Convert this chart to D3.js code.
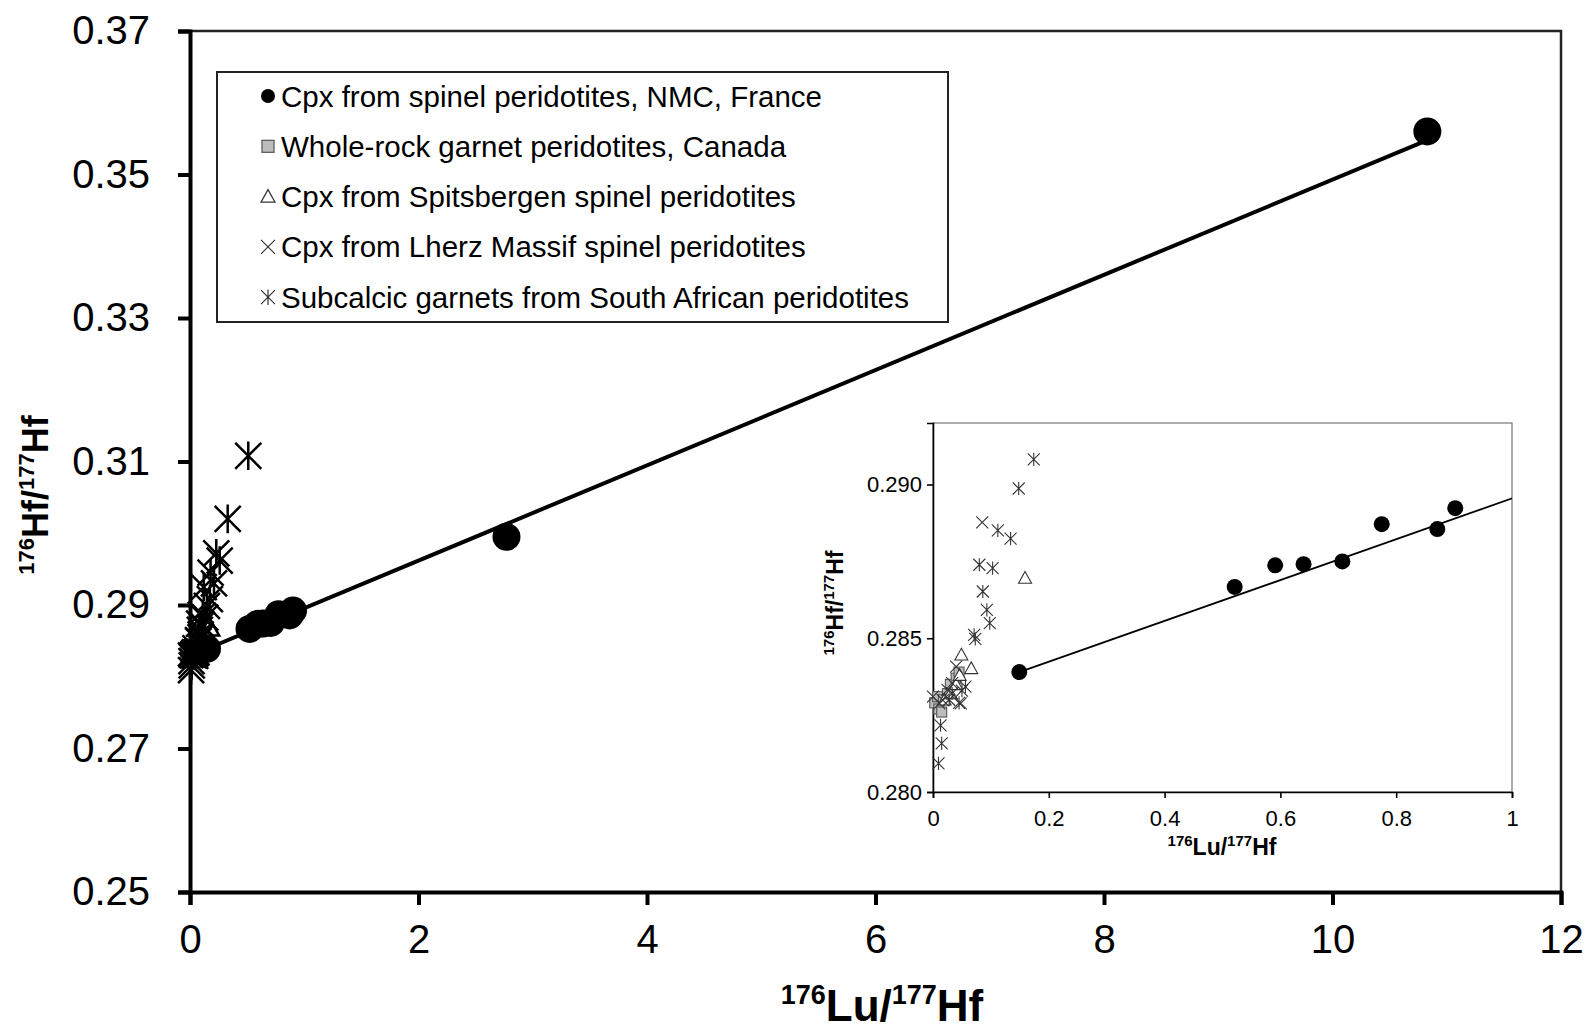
<!DOCTYPE html>
<html>
<head>
<meta charset="utf-8">
<script src="https://cdn.jsdelivr.net/npm/d3@7"></script>
<style>
  body { margin: 0; background: #fff; }
  svg { display: block; font-family: "Liberation Sans", Arial, sans-serif; }
</style>
</head>
<body>
<svg id="chart" width="1589" height="1028"></svg>
<script>
// --- data ---
var nmcLu = [0.149, 0.521, 0.591, 0.640, 0.707, 0.775, 0.871, 0.902, 2.77, 10.83];
var nmcHf = [0.28390, 0.28667, 0.28737, 0.28741, 0.28750, 0.28871, 0.28855, 0.28923, 0.2995, 0.3560];

var canadaLu = [0.003, 0.008, 0.010, 0.015, 0.018, 0.025, 0.030, 0.040, 0.045];
var canadaHf = [0.28290, 0.28310, 0.28270, 0.28260, 0.28300, 0.28320, 0.28350, 0.28370, 0.28390];

var spitsLu = [0.020, 0.030, 0.040, 0.046, 0.049, 0.066, 0.159];
var spitsHf = [0.28300, 0.28320, 0.28350, 0.28380, 0.28446, 0.28402, 0.28696];

var lherzLu = [0.000, 0.011, 0.017, 0.025, 0.033, 0.040, 0.048, 0.085];
var lherzHf = [0.28310, 0.28288, 0.28299, 0.28332, 0.28354, 0.28408, 0.28288, 0.28877];

var garnetLu = [0.0095, 0.015, 0.013, 0.028, 0.033, 0.045, 0.050, 0.056, 0.071, 0.073, 0.098, 0.093,
                0.086, 0.103, 0.080, 0.134, 0.112, 0.148, 0.174, 0.12, 0.21, 0.18, 0.26, 0.23, 0.33, 0.51];
var garnetHf = [0.28093, 0.28158, 0.28217, 0.28300, 0.28321, 0.28290, 0.28330, 0.28343, 0.28511, 0.28498, 0.28549, 0.28592,
                0.28652, 0.28728, 0.28739, 0.28824, 0.28851, 0.28987, 0.29082, 0.2925, 0.2930, 0.2945, 0.2962, 0.2972, 0.3020, 0.3108];

var lineLu = [0.149, 10.83];
var lineHf = [0.2839, 0.3548];

var mainXTicks = [0, 2, 4, 6, 8, 10, 12];
var mainYTicks = [0.25, 0.27, 0.29, 0.31, 0.33, 0.35, 0.37];
var insetXTicks = [0, 0.2, 0.4, 0.6, 0.8, 1];
var insetYTicks = [0.280, 0.285, 0.290];

var legendLabels = [
  "Cpx from spinel peridotites, NMC, France",
  "Whole-rock garnet peridotites, Canada",
  "Cpx from Spitsbergen spinel peridotites",
  "Cpx from Lherz Massif spinel peridotites",
  "Subcalcic garnets from South African peridotites"
];
var legendKinds = ["circle", "square", "triangle", "x", "star"];

function zip(a, b) { return a.map(function(v, i) { return [v, b[i]]; }); }

// drawing order: light symbols first, black ones on top
var series = [
  {kind: "square", pts: zip(canadaLu, canadaHf)},
  {kind: "triangle", pts: zip(spitsLu, spitsHf)},
  {kind: "x", pts: zip(lherzLu, lherzHf)},
  {kind: "star", pts: zip(garnetLu, garnetHf)},
  {kind: "circle", pts: zip(nmcLu, nmcHf)}
];

var svg = d3.select("#chart");

// marker drawing helper
function marker(g, kind, x, y, s, sw, col) {
  if (kind === "circle") {
    g.append("circle").attr("cx", x).attr("cy", y).attr("r", s).attr("fill", "#000");
  } else if (kind === "square") {
    g.append("rect").attr("x", x - s).attr("y", y - s).attr("width", 2 * s).attr("height", 2 * s)
      .attr("fill", "#bdbdbd").attr("stroke", "#555").attr("stroke-width", sw);
  } else if (kind === "triangle") {
    g.append("path").attr("d", "M" + x + "," + (y - s) + "L" + (x + s) + "," + (y + s * 0.8) + "L" + (x - s) + "," + (y + s * 0.8) + "Z")
      .attr("fill", "#fff").attr("stroke", col).attr("stroke-width", sw);
  } else if (kind === "x") {
    g.append("path").attr("d", "M" + (x - s) + "," + (y - s) + "L" + (x + s) + "," + (y + s) + "M" + (x + s) + "," + (y - s) + "L" + (x - s) + "," + (y + s))
      .attr("fill", "none").attr("stroke", col).attr("stroke-width", sw);
  } else {
    g.append("path").attr("d", "M" + (x - s) + "," + (y - s) + "L" + (x + s) + "," + (y + s) + "M" + (x + s) + "," + (y - s) + "L" + (x - s) + "," + (y + s) +
        "M" + x + "," + (y - s * 1.1) + "L" + x + "," + (y + s * 1.1))
      .attr("fill", "none").attr("stroke", col).attr("stroke-width", sw);
  }
}

function supLabel(sel, parts, big, small) {
  parts.forEach(function(p) {
    sel.append("tspan").attr("font-size", p[1] ? small : big)
      .attr("dy", p[1] ? -big * 0.38 : (p[2] ? big * 0.38 : 0)).text(p[0]);
  });
}

// ---------- main chart ----------
var M = {left: 190, right: 1561, top: 31, bottom: 892};
var x = d3.scaleLinear().domain([0, 12]).range([M.left, M.right]);
var y = d3.scaleLinear().domain([0.25, 0.37]).range([M.bottom, M.top]);

// top/right frame
svg.append("path").attr("d", "M" + M.left + "," + M.top + "H" + M.right + "V" + M.bottom)
  .attr("fill", "none").attr("stroke", "#222").attr("stroke-width", 2.5);

var gy = svg.append("g").attr("transform", "translate(" + M.left + ",0)")
  .call(d3.axisLeft(y).tickValues(mainYTicks).tickFormat(d3.format(".2f")).tickSizeOuter(0).tickSize(12).tickPadding(28));
var gx = svg.append("g").attr("transform", "translate(0," + M.bottom + ")")
  .call(d3.axisBottom(x).tickValues(mainXTicks).tickFormat(d3.format("d")).tickSizeOuter(0).tickSize(13).tickPadding(20));
[gx, gy].forEach(function(g) {
  g.select(".domain").attr("stroke", "#000").attr("stroke-width", 4);
  g.selectAll(".tick line").attr("stroke", "#000").attr("stroke-width", 4);
  g.selectAll("text").attr("font-size", 40).attr("fill", "#000").attr("font-family", "Liberation Sans, Arial, sans-serif");
});

// regression line
svg.append("line").attr("x1", x(lineLu[0])).attr("y1", y(lineHf[0])).attr("x2", x(lineLu[1])).attr("y2", y(lineHf[1]))
  .attr("stroke", "#000").attr("stroke-width", 4);

var mainMarks = svg.append("g");
var mainSize = {circle: 14, square: 9, triangle: 11, x: 12, star: 13};
series.forEach(function(s) {
  s.pts.forEach(function(p) {
    marker(mainMarks, s.kind, x(p[0]), y(p[1]), mainSize[s.kind], 2.5, "#000");
  });
});

// axis titles
var xt = svg.append("text").attr("x", 882).attr("y", 1021).attr("text-anchor", "middle")
  .attr("font-weight", "bold").attr("font-size", 44);
supLabel(xt, [["176", 1], ["Lu/", 0, 1], ["177", 1], ["Hf", 0, 1]], 44, 27);
var yt = svg.append("text").attr("transform", "translate(48,495) rotate(-90)").attr("text-anchor", "middle")
  .attr("font-weight", "bold").attr("font-size", 36);
supLabel(yt, [["176", 1], ["Hf/", 0, 1], ["177", 1], ["Hf", 0, 1]], 36, 22);

// legend
var L = {x: 217, y: 72, w: 731, h: 250};
svg.append("rect").attr("x", L.x).attr("y", L.y).attr("width", L.w).attr("height", L.h)
  .attr("fill", "#fff").attr("stroke", "#222").attr("stroke-width", 2);
var legendSize = {circle: 7, square: 6, triangle: 7, x: 7, star: 7};
legendLabels.forEach(function(lab, i) {
  var cy = 96 + i * 50.3;
  marker(svg, legendKinds[i], 268, cy, legendSize[legendKinds[i]], 1.2, "#333");
  svg.append("text").attr("x", 281).attr("y", cy + 10.5).attr("font-size", 29.5).attr("fill", "#000").text(lab);
});

// ---------- inset ----------
var I = {left: 933, right: 1512, top: 423, bottom: 792};
var xi = d3.scaleLinear().domain([0, 1]).range([I.left, I.right]);
var yi = d3.scaleLinear().domain([0.280, 0.292]).range([I.bottom, I.top]);

svg.append("rect").attr("x", I.left).attr("y", I.top).attr("width", I.right - I.left).attr("height", I.bottom - I.top)
  .attr("fill", "#fff").attr("stroke", "#777").attr("stroke-width", 1.2);
svg.append("clipPath").attr("id", "insetClip").append("rect")
  .attr("x", I.left - 8).attr("y", I.top).attr("width", I.right - I.left + 8).attr("height", I.bottom - I.top + 8);

var giy = svg.append("g").attr("transform", "translate(" + I.left + ",0)")
  .call(d3.axisLeft(yi).tickValues(insetYTicks).tickFormat(d3.format(".3f")).tickSizeOuter(0).tickSize(6).tickPadding(5));
var gix = svg.append("g").attr("transform", "translate(0," + I.bottom + ")")
  .call(d3.axisBottom(xi).tickValues(insetXTicks).tickFormat(function(d) { return d === 0 || d === 1 ? d : d3.format(".1f")(d); })
    .tickSizeOuter(0).tickSize(6).tickPadding(12));
[gix, giy].forEach(function(g) {
  g.select(".domain").attr("stroke", "#000").attr("stroke-width", 1.6);
  g.selectAll(".tick line").attr("stroke", "#000").attr("stroke-width", 1.6);
  g.selectAll("text").attr("font-size", 22).attr("fill", "#000").attr("font-family", "Liberation Sans, Arial, sans-serif");
});

var insetPlot = svg.append("g").attr("clip-path", "url(#insetClip)");
insetPlot.append("line").attr("x1", xi(lineLu[0])).attr("y1", yi(lineHf[0])).attr("x2", xi(lineLu[1])).attr("y2", yi(lineHf[1]))
  .attr("stroke", "#000").attr("stroke-width", 1.8);
var insetSize = {circle: 8, square: 5, triangle: 6.5, x: 6, star: 6};
series.forEach(function(s) {
  s.pts.forEach(function(p) {
    if (p[0] <= 1 && p[1] <= 0.292) marker(insetPlot, s.kind, xi(p[0]), yi(p[1]), insetSize[s.kind], 1.1, "#333");
  });
});

var ixt = svg.append("text").attr("x", 1222).attr("y", 855).attr("text-anchor", "middle")
  .attr("font-weight", "bold").attr("font-size", 23);
supLabel(ixt, [["176", 1], ["Lu/", 0, 1], ["177", 1], ["Hf", 0, 1]], 23, 15);
var iyt = svg.append("text").attr("transform", "translate(843,603) rotate(-90)").attr("text-anchor", "middle")
  .attr("font-weight", "bold").attr("font-size", 23);
supLabel(iyt, [["176", 1], ["Hf/", 0, 1], ["177", 1], ["Hf", 0, 1]], 23, 15);
</script>
</body>
</html>
